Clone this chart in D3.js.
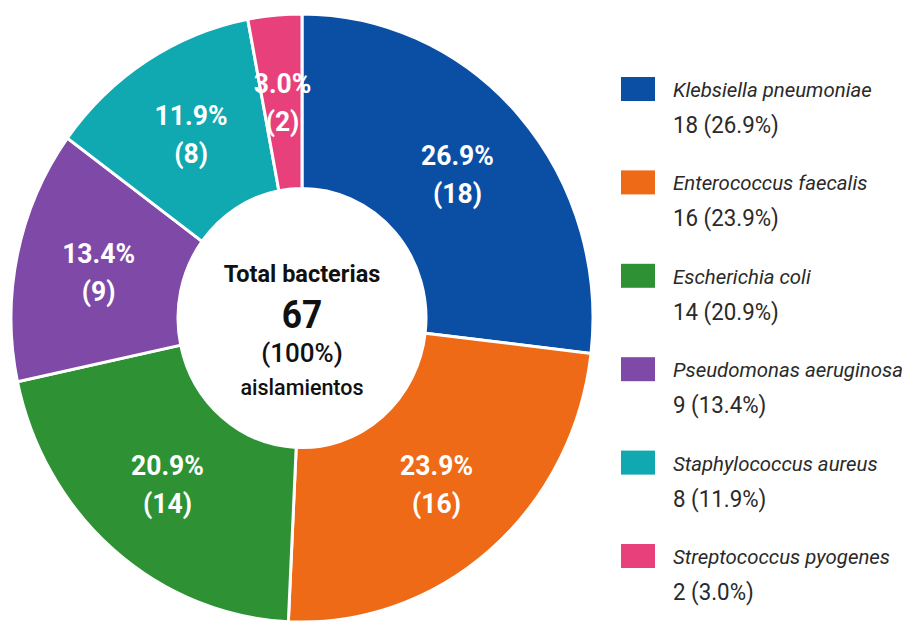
<!DOCTYPE html>
<html>
<head>
<meta charset="utf-8">
<script src="https://cdn.jsdelivr.net/npm/d3@7"></script>
<style>
  html, body { margin: 0; padding: 0; background: #ffffff; }
  svg { display: block; }
</style>
</head>
<body>
<svg id="chart" width="908" height="622"></svg>
<script>
// ---- data ----
const categories = [
  "Klebsiella pneumoniae",
  "Enterococcus faecalis",
  "Escherichia coli",
  "Pseudomonas aeruginosa",
  "Staphylococcus aureus",
  "Streptococcus pyogenes"
];
const counts = [18, 16, 14, 9, 8, 2];
const percentLabels = ["26.9%", "23.9%", "20.9%", "13.4%", "11.9%", "3.0%"];
const colors = ["#0b4fa5", "#ef6a16", "#2e9235", "#7f4aa7", "#10a8b1", "#e8407a"];
const centerLines = ["Total bacterias", "67", "(100%)", "aislamientos"];

// ---- layout ----
const svg = d3.select("#chart");
const cx = 302, cy = 318;
const rOuter = 291, rInner = 124, rLabel = 208;
const yStretch = 1.045;
const FONT = "Roboto, 'Noto Sans', sans-serif";

const data = categories.map((c, i) => ({ name: c, value: counts[i], pct: percentLabels[i], color: colors[i] }));

const pie = d3.pie().value(d => d.value).sort(null);
const arcs = pie(data);
const arc = d3.arc().innerRadius(rInner).outerRadius(rOuter);
const labelArc = d3.arc().innerRadius(rLabel).outerRadius(rLabel);

const g = svg.append("g").attr("transform", `translate(${cx},${cy})`);
const slices = g.append("g").attr("transform", `scale(1,${yStretch})`);
slices.selectAll("path")
  .data(arcs)
  .join("path")
  .attr("d", arc)
  .attr("fill", d => d.data.color)
  .attr("stroke", "#ffffff")
  .attr("stroke-width", 3)
  .attr("vector-effect", "non-scaling-stroke");

// slice labels
const lab = g.append("g")
  .selectAll("text")
  .data(arcs)
  .join("text")
  .attr("transform", d => {
    const [x, y] = labelArc.centroid(d);
    return `translate(${x},${y * yStretch}) scale(0.93,1)`;
  })
  .attr("text-anchor", "middle")
  .attr("fill", "#ffffff")
  .style("font-family", FONT)
  .style("font-weight", "700")
  .style("font-size", "28.5px");
lab.append("tspan").attr("x", 0).attr("y", -9).text(d => d.data.pct);
lab.append("tspan").attr("x", 0).attr("y", 29).text(d => `(${d.data.value})`);

// center text
const ct = g.append("g").attr("text-anchor", "middle").attr("fill", "#111111")
  .style("font-family", FONT);
ct.append("text").attr("y", -36).style("font-size", "23.5px").style("font-weight", "700")
  .text(centerLines[0]);
ct.append("text").attr("transform", "translate(0,10) scale(0.93,1)")
  .style("font-size", "38px").style("font-weight", "700").text(centerLines[1]);
ct.append("text").attr("y", 44).style("font-size", "26px").style("font-weight", "500").text(centerLines[2]);
ct.append("text").attr("y", 77).style("font-size", "21.5px").style("font-weight", "500").text(centerLines[3]);

// legend
const legend = svg.append("g").attr("transform", "translate(621,77)");
const item = legend.selectAll("g")
  .data(data)
  .join("g")
  .attr("transform", (d, i) => `translate(0,${i * 93.4})`);
item.append("rect").attr("width", 34).attr("height", 24).attr("fill", d => d.color);
item.append("text")
  .attr("transform", "translate(52,20) scale(1.02,1)")
  .attr("fill", "#2a2a2a")
  .style("font-family", FONT)
  .style("font-style", "italic")
  .style("font-size", "20px")
  .text(d => d.name);
item.append("text")
  .attr("transform", "translate(52,56) scale(0.93,1)")
  .attr("fill", "#2a2a2a")
  .style("font-family", FONT)
  .style("font-size", "24px")
  .text(d => `${d.value} (${d.pct})`);
</script>
</body>
</html>
